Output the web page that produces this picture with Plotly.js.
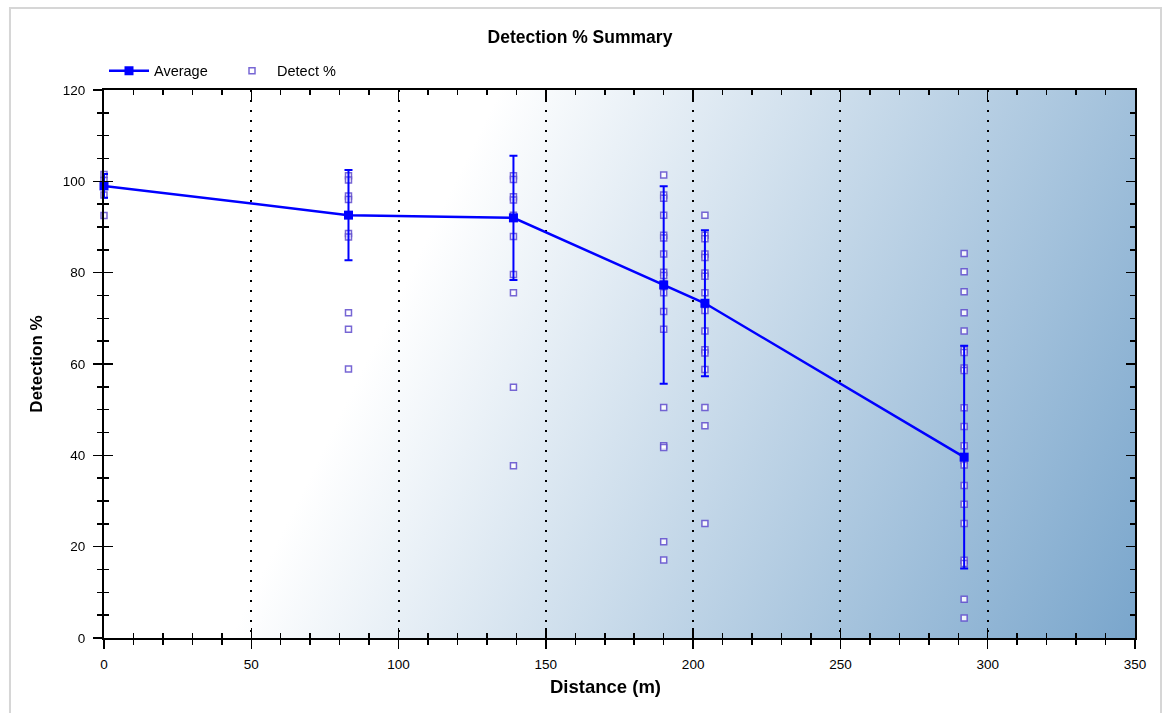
<!DOCTYPE html>
<html>
<head>
<meta charset="utf-8">
<script src="https://cdn.plot.ly/plotly-3.0.1.min.js"></script>
<style>
html,body{margin:0;padding:0;background:#fff;}
#chart{width:1167px;height:713px;}
</style>
</head>
<body>
<div id="chart"></div>
<script>
// ---- Data ----
const avgX = [0, 83, 139, 190, 204, 292];
const avgY = [99.0, 92.6, 92.0, 77.3, 73.3, 39.6];
const avgErr = [2.6, 9.9, 13.6, 21.6, 16.0, 24.4];

const detDist = [0, 83, 139, 190, 204, 292];
const det0   = [101.5, 100.2, 97.0, 92.5];
const det83  = [101.2, 100.3, 96.8, 96.0, 88.6, 87.8, 71.2, 67.6, 58.9];
const det139 = [101.2, 100.4, 96.6, 95.9, 92.6, 87.9, 79.6, 75.6, 54.9, 37.7];
const det190 = [101.4, 97.0, 96.3, 92.6, 88.2, 87.6, 84.1, 80.1, 79.4, 77.5, 75.6, 71.5, 67.6, 50.5, 42.1, 41.7, 21.1, 17.1];
const det204 = [92.6, 88.2, 87.4, 84.1, 83.3, 79.9, 79.2, 75.6, 73.0, 71.7, 67.2, 63.1, 62.4, 58.8, 50.5, 46.5, 25.1];
const det292 = [84.2, 80.2, 75.8, 71.2, 67.2, 63.1, 62.5, 59.1, 58.6, 50.4, 46.3, 42.1, 38.9, 37.9, 33.4, 29.3, 25.1, 17.0, 16.3, 8.5, 4.4];

const xTickVals = [0, 50, 100, 150, 200, 250, 300, 350];
const yTickVals = [0, 20, 40, 60, 80, 100, 120];

// ---- Build scatter arrays ----
const detGroups = [det0, det83, det139, det190, det204, det292];
const detX = [], detY = [];
detGroups.forEach((g, i) => g.forEach(v => { detX.push(detDist[i]); detY.push(v); }));

const FONT = 'Liberation Sans, Arial, sans-serif';

// gradient background svg
const svg = '<svg xmlns="http://www.w3.org/2000/svg" width="1031" height="548" viewBox="0 0 1031 548" preserveAspectRatio="none">' +
  '<defs><linearGradient id="g" gradientUnits="userSpaceOnUse" x1="318.6" y1="157" x2="1046.8" y2="515.8">' +
  '<stop offset="0" stop-color="#ffffff"/><stop offset="1" stop-color="#7aa6cc"/></linearGradient></defs>' +
  '<rect x="0" y="0" width="1031" height="548" fill="url(#g)"/></svg>';
const svgURI = 'data:image/svg+xml;charset=utf-8,' + encodeURIComponent(svg);

const traces = [
  {
    x: detX, y: detY, name: 'Detect %', type: 'scatter', mode: 'markers',
    legendrank: 2, cliponaxis: false,
    marker: {symbol: 'square', size: 6, color: 'rgba(255,255,255,0.85)',
             line: {color: 'rgba(95,75,205,0.85)', width: 1.5}}
  },
  {
    x: avgX, y: avgY, name: 'Average', type: 'scatter', mode: 'lines+markers',
    legendrank: 1, cliponaxis: false,
    line: {color: '#0000ff', width: 2.5},
    marker: {symbol: 'square', size: 9, color: '#0000ff'},
    error_y: {type: 'data', array: avgErr, visible: true, color: '#0000ff', thickness: 2, width: 4}
  },
  {
    // invisible helper so that the inner-tick overlay axes get drawn
    x: avgX, y: avgY, xaxis: 'x2', yaxis: 'y2', type: 'scatter', mode: 'markers',
    opacity: 0, showlegend: false, hoverinfo: 'skip'
  }
];

const axisCommon = {
  linecolor: '#000', linewidth: 2, showline: true, zeroline: false,
  tickcolor: '#000', tickwidth: 1.5, tickfont: {family: FONT, size: 13.5, color: '#000'}
};

const layout = {
  width: 1167, height: 713,
  paper_bgcolor: '#ffffff', plot_bgcolor: 'rgba(0,0,0,0)',
  margin: {l: 104, r: 32, t: 90, b: 75, autoexpand: false},
  font: {family: FONT, color: '#000'},
  title: {text: 'Detection % Summary', font: {family: FONT, size: 17.5, weight: 'bold', color: '#000'},
          xref: 'container', x: 0.497, xanchor: 'center', yref: 'container', y: 1 - 37/713, yanchor: 'middle'},
  showlegend: true,
  legend: {orientation: 'h', x: 0, xanchor: 'left', y: 1.035, yanchor: 'middle', itemwidth: 40,
           entrywidth: 68, entrywidthmode: 'pixels',
           font: {family: FONT, size: 14.5, color: '#000'}, bgcolor: 'rgba(0,0,0,0)', traceorder: 'normal'},
  xaxis: Object.assign({}, axisCommon, {
    range: [0, 350], tickvals: xTickVals, ticks: 'outside', ticklen: 9, mirror: false, ticklabelstandoff: 4,
    showgrid: true, gridcolor: '#000', gridwidth: 2, griddash: '2px,8px',
    minor: {dtick: 10, tick0: 0, ticks: 'outside', ticklen: 5, tickwidth: 1.5, tickcolor: '#000', showgrid: false}
  }),
  xaxis2: Object.assign({}, axisCommon, {
    range: [0, 350], overlaying: 'x', side: 'bottom', tickvals: xTickVals, ticks: 'inside', ticklen: 10,
    mirror: 'ticks', showticklabels: false, showgrid: false,
    minor: {dtick: 10, tick0: 0, ticks: 'inside', ticklen: 5, tickwidth: 1.5, tickcolor: '#000', showgrid: false}
  }),
  yaxis: Object.assign({}, axisCommon, {
    range: [0, 120], tickvals: yTickVals, ticks: 'outside', ticklen: 9, mirror: false, showgrid: false,
    ticklabelstandoff: 5,
    minor: {dtick: 5, tick0: 0, ticks: 'outside', ticklen: 5, tickwidth: 1.5, tickcolor: '#000', showgrid: false},
    title: {text: 'Detection %', font: {family: FONT, size: 17, weight: 'bold', color: '#000'}, standoff: 16}
  }),
  yaxis2: Object.assign({}, axisCommon, {
    range: [0, 120], overlaying: 'y', side: 'left', tickvals: yTickVals, ticks: 'inside', ticklen: 9,
    mirror: 'ticks', showticklabels: false, showgrid: false,
    minor: {dtick: 5, tick0: 0, ticks: 'inside', ticklen: 5, tickwidth: 1.5, tickcolor: '#000', showgrid: false}
  }),
  annotations: [{text: 'Distance (m)', xref: 'paper', yref: 'paper', x: 0.486, y: -0.0894,
                 xanchor: 'center', yanchor: 'middle', showarrow: false,
                 font: {family: FONT, size: 18.5, weight: 'bold', color: '#000'}}],
  images: [{source: svgURI, xref: 'paper', yref: 'paper', x: 0, y: 1, sizex: 1, sizey: 1,
            xanchor: 'left', yanchor: 'top', sizing: 'stretch', layer: 'below'}],
  shapes: [{type: 'rect', xref: 'paper', yref: 'paper', x0: -0.0912, x1: 1.0252, y0: -0.16, y1: 1.1496,
            line: {color: '#d6d6d6', width: 2}, fillcolor: 'rgba(0,0,0,0)', layer: 'below'}]
};

Plotly.newPlot('chart', traces, layout, {displayModeBar: false, staticPlot: true});
</script>
</body>
</html>
